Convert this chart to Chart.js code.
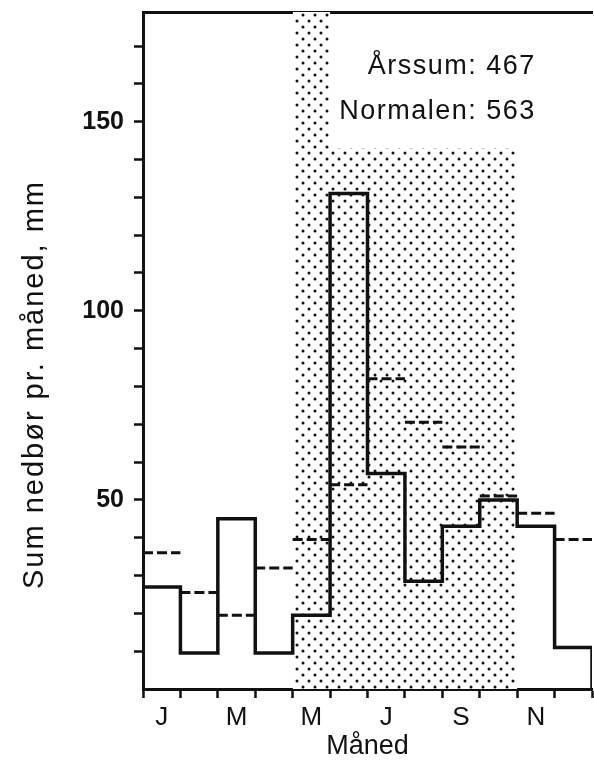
<!DOCTYPE html>
<html>
<head>
<meta charset="utf-8">
<script src="https://cdn.jsdelivr.net/npm/chart.js@4/dist/chart.umd.min.js"></script>
<style>
html,body{margin:0;padding:0;background:#fff;}
#wrap{width:594px;height:778px;}
</style>
</head>
<body>
<div id="wrap"><canvas id="chart"></canvas></div>
<script>
// monthly precipitation (mm)
const months = ["J","F","M","A","M","J","J","A","S","O","N","D"];
const shownMonths = ["J","","M","","M","","J","","S","","N",""];
const precip = [27,9.5,45,9.5,19.5,131,57,28.5,43,50,43,11];
const normals = [36,25.5,19.5,32,39.5,54,82,70.5,64,51,46.5,39.5];
// stippled growing season band (May tall, Jun-Oct lower)
const shade = [null,null,null,null,179,143,143,143,143,143,null,null];
const yTickVals = [10,20,30,40,50,60,70,80,90,100,110,120,130,140,150,160,170];
const yLabeled = [50,100,150];
const yMax = 179;
const summary = ["Årssum: 467","Normalen: 563"];
const yTitle = "Sum nedbør pr. måned, mm";
const xTitle = "Måned";

const ink = "#111";
const font = "'Liberation Sans', Arial, sans-serif";

function stepPoints(vals){
let pts = [];
vals.forEach((v,i)=>{ if(v!==null) pts.push({x:i,y:v}); });
let last = pts[pts.length-1];
pts.push({x:last.x+1,y:last.y});
return pts;
}

let precipPts = stepPoints(precip);
precipPts.push({x:precip.length,y:0});

let normalPts = [];
normals.forEach((v,i)=>{
normalPts.push({x:i,y:v},{x:i+1,y:v},{x:i+1,y:null});
});

function stipple(){
let c = document.createElement("canvas");
c.width = 12; c.height = 12;
let g = c.getContext("2d");
g.fillStyle = "#fff";
g.fillRect(0,0,12,12);
g.fillStyle = "#111";
g.beginPath(); g.arc(3,3,1.5,0,Math.PI*2); g.fill();
g.beginPath(); g.arc(9,9,1.5,0,Math.PI*2); g.fill();
return g.createPattern(c,"repeat");
}

const textPlugin = {
id:"texts",
afterDraw(chart){
const ctx = chart.ctx;
const area = chart.chartArea;
const xs = chart.scales.x;
ctx.save();
ctx.fillStyle = ink;
ctx.font = "27px " + font;
ctx.letterSpacing = "1.5px";
ctx.textAlign = "right";
ctx.textBaseline = "middle";
ctx.fillText(summary[0], xs.getPixelForValue(10.5), area.top + 55);
ctx.fillText(summary[1], xs.getPixelForValue(10.5), area.top + 100);

ctx.font = "29px " + font;
ctx.letterSpacing = "2px";
ctx.translate(35, area.top + (area.bottom-area.top)/2 + 34);
ctx.rotate(-Math.PI/2);
ctx.textAlign = "center";
ctx.fillText(yTitle, 0, 0);
ctx.restore();
}
};

const ctx = document.getElementById("chart").getContext("2d");

new Chart(ctx,{
type:"line",
data:{
datasets:[
{
data:precipPts,
stepped:"before",
borderColor:ink,
borderWidth:3.5,
borderJoinStyle:"miter",
pointRadius:0,
fill:false
},
{
data:normalPts,
borderColor:ink,
borderWidth:3,
borderDash:[10,4],
pointRadius:0,
spanGaps:false,
fill:false
},
{
data:stepPoints(shade),
stepped:"before",
borderWidth:0,
borderColor:"rgba(0,0,0,0)",
backgroundColor:stipple(),
pointRadius:0,
fill:"origin"
}
]
},
options:{
responsive:true,
maintainAspectRatio:false,
animation:false,
layout:{padding:{top:12,right:2,left:0,bottom:0}},
plugins:{legend:{display:false},tooltip:{enabled:false}},
scales:{
x:{
type:"linear",
position:"bottom",
min:0,
max:12,
afterBuildTicks:a=>{
let t=[];
for(let i=0;i<=24;i++) t.push({value:i/2});
a.ticks=t;
},
afterFit:s=>{ s.height = 89; s.paddingLeft = 0; s.paddingRight = 0; },
grid:{
drawOnChartArea:false,
tickLength:9,
tickWidth:2.5,
tickColor:c=>Number.isInteger(c.tick.value) ? ink : "rgba(0,0,0,0)"
},
border:{color:ink,width:3},
ticks:{
autoSkip:false,
maxRotation:0,
padding:4,
color:ink,
font:{family:font,size:26},
callback:v=>{
let i=Math.floor(v);
return (v-i===0.5) ? shownMonths[i] : "";
}
},
title:{
display:true,
text:xTitle,
color:ink,
font:{family:font,size:27},
padding:{top:0,bottom:15}
}
},
x2:{
type:"linear",
position:"top",
min:0,
max:12,
afterFit:s=>{ s.height = 0; s.paddingLeft = 0; s.paddingRight = 0; },
grid:{display:false,drawTicks:false},
ticks:{display:false},
border:{display:true,color:ink,width:3}
},
y:{
min:0,
max:yMax,
afterBuildTicks:a=>{ a.ticks = yTickVals.map(v=>({value:v})); },
afterFit:s=>{ s.width = 143; s.paddingTop = 0; s.paddingBottom = 0; },
grid:{drawOnChartArea:false,tickLength:9,tickWidth:2.5,tickColor:ink},
border:{color:ink,width:3},
ticks:{
padding:10,
color:ink,
font:{family:font,size:25,weight:"bold"},
callback:v=>yLabeled.includes(v) ? String(v) : ""
}
}
}
},
plugins:[textPlugin]
});
</script>
</body>
</html>
